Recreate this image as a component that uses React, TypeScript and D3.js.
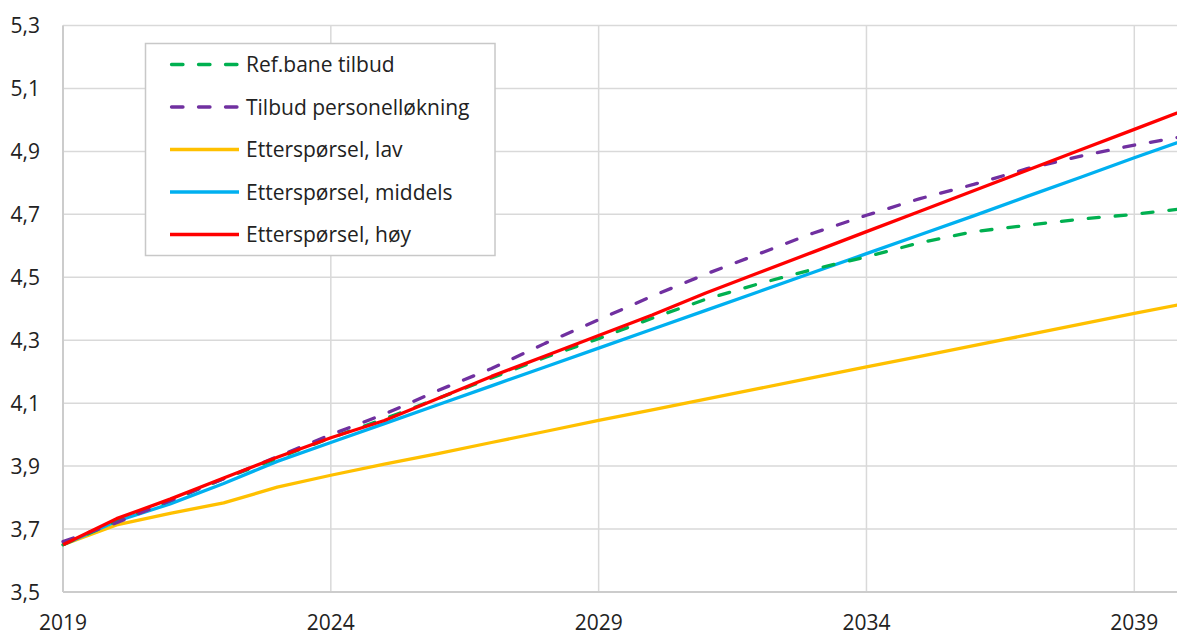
import React from "react";
import * as d3 from "d3";

const years = [2019, 2020, 2021, 2022, 2023, 2024, 2025, 2026, 2027, 2028, 2029, 2030, 2031, 2032, 2033, 2034, 2035, 2036, 2037, 2038, 2039, 2040];

const refTilbud = [3.65, 3.725, 3.79, 3.86, 3.925, 3.99, 4.05, 4.115, 4.18, 4.245, 4.305, 4.37, 4.43, 4.48, 4.525, 4.565, 4.61, 4.645, 4.665, 4.685, 4.70, 4.72];
const tilbudPers = [3.66, 3.72, 3.79, 3.86, 3.93, 4.0, 4.065, 4.14, 4.21, 4.29, 4.365, 4.44, 4.51, 4.575, 4.64, 4.697, 4.75, 4.795, 4.845, 4.885, 4.92, 4.95];
const ettLav = [3.65, 3.713, 3.75, 3.783, 3.833, 3.871, 3.906, 3.94, 3.975, 4.01, 4.045, 4.079, 4.113, 4.147, 4.181, 4.215, 4.249, 4.283, 4.317, 4.351, 4.385, 4.418];
const ettMiddels = [3.65, 3.725, 3.78, 3.845, 3.915, 3.975, 4.035, 4.095, 4.155, 4.215, 4.275, 4.335, 4.395, 4.455, 4.515, 4.575, 4.635, 4.695, 4.757, 4.818, 4.88, 4.94];
const ettHoy = [3.65, 3.733, 3.795, 3.862, 3.928, 3.99, 4.045, 4.115, 4.185, 4.25, 4.315, 4.38, 4.45, 4.515, 4.58, 4.645, 4.71, 4.775, 4.84, 4.905, 4.97, 5.035];

const yTicks = [3.5, 3.7, 3.9, 4.1, 4.3, 4.5, 4.7, 4.9, 5.1, 5.3];
const xTicks = [2019, 2024, 2029, 2034, 2039];

const seriesNames = ["Ref.bane tilbud", "Tilbud personelløkning", "Etterspørsel, lav", "Etterspørsel, middels", "Etterspørsel, høy"];
const seriesColors = ["#00B050", "#7030A0", "#FFC000", "#00B0F0", "#FF0000"];
const seriesDashed = [true, true, false, false, false];
const seriesValues = [refTilbud, tilbudPers, ettLav, ettMiddels, ettHoy];
const drawOrder = [2, 3, 0, 1, 4];

const W = 1177;
const H = 633;
const FONT = "'Open Sans', 'Noto Sans', sans-serif";

export default function App() {
  const x = d3.scaleLinear().domain([2019, 2040]).range([63, 1134.3 + 53.56]);
  const y = d3.scaleLinear().domain([3.5, 5.3]).range([592, 25.5]);
  const line = d3
    .line<[number, number]>()
    .x((d) => x(d[0]))
    .y((d) => y(d[1]));

  const legendX = 145.5;
  const legendY = 43.5;
  const legendW = 349.5;
  const legendH = 212;
  const rowY = [64.5, 107, 149.5, 192, 234.5];

  return (
    <svg
      width={W}
      height={H}
      style={{ position: "absolute", left: 0, top: 0, background: "#fff" }}
      fontFamily={FONT}
    >
      <rect x={0} y={0} width={W} height={H} fill="#fff" />
      {yTicks.map((t) => (
        <line key={"gy" + t} x1={x(2019)} x2={W} y1={y(t)} y2={y(t)} stroke="#d9d9d9" strokeWidth={1.5} />
      ))}
      {xTicks.map((t) => (
        <line key={"gx" + t} x1={x(t)} x2={x(t)} y1={y(5.3)} y2={y(3.5)} stroke="#d9d9d9" strokeWidth={1.5} />
      ))}
      <line x1={x(2019)} x2={x(2019)} y1={y(5.3)} y2={y(3.5)} stroke="#cccccc" strokeWidth={2} />
      <line x1={x(2019)} x2={W} y1={y(3.5)} y2={y(3.5)} stroke="#cccccc" strokeWidth={2} />
      {yTicks.map((t) => (
        <text key={"ty" + t} x={40} y={y(t)} dy="0.36em" textAnchor="end" fontSize={21} fill="#222">
          {t.toFixed(1).replace(".", ",")}
        </text>
      ))}
      {xTicks.map((t) => (
        <text key={"tx" + t} x={x(t)} y={630} textAnchor="middle" fontSize={21} fill="#222">
          {t}
        </text>
      ))}
      {drawOrder.map((i) => (
        <path
          key={"s" + i}
          d={line(years.map((yr, k) => [yr, seriesValues[i][k]]) as [number, number][]) || ""}
          fill="none"
          stroke={seriesColors[i]}
          strokeWidth={3.3}
          strokeDasharray={seriesDashed[i] ? "11 16" : undefined}
          strokeLinecap={seriesDashed[i] ? "round" : "butt"}
          strokeLinejoin="round"
        />
      ))}
      <rect x={legendX} y={legendY} width={legendW} height={legendH} fill="#fff" stroke="#c8c8c8" strokeWidth={1.5} />
      {seriesNames.map((n, i) => (
        <g key={"lg" + i}>
          <line
            x1={seriesDashed[i] ? 171.5 : 170}
            x2={seriesDashed[i] ? 237.5 : 239}
            y1={rowY[i]}
            y2={rowY[i]}
            stroke={seriesColors[i]}
            strokeWidth={3.3}
            strokeDasharray={seriesDashed[i] ? "11.5 15.5" : undefined}
            strokeLinecap={seriesDashed[i] ? "round" : "butt"}
          />
          <text x={246} y={rowY[i]} dy="0.36em" fontSize={21} fill="#222">
            {n}
          </text>
        </g>
      ))}
    </svg>
  );
}
